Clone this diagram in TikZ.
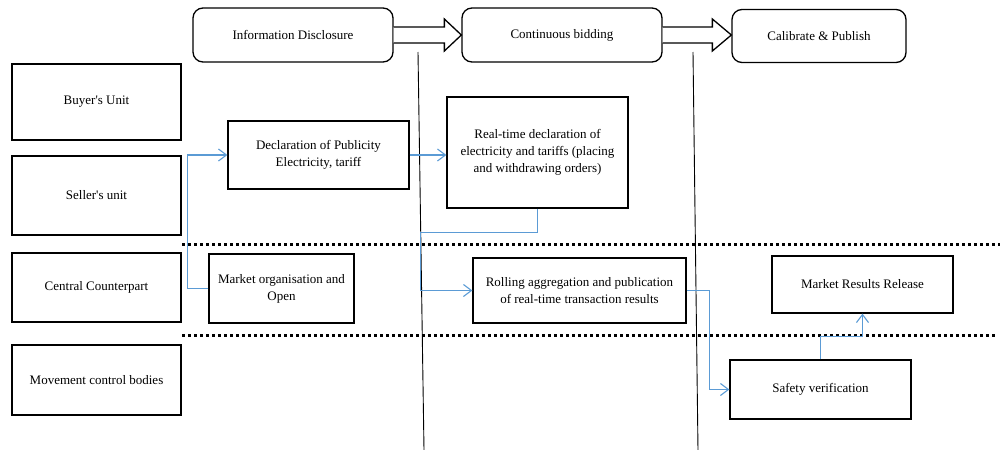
\documentclass[tikz,border=0pt]{standalone}
\usepackage{fontspec}
\setmainfont{Liberation Serif}
\usetikzlibrary{arrows.meta,positioning,calc}
\definecolor{linkblue}{RGB}{91,155,213}
\tikzstyle{lane} = [draw, line width=1.3pt, minimum width=169pt, align=center, font=\fontsize{13}{17}\selectfont]
\tikzstyle{phase} = [draw, line width=1.3pt, rounded corners=10pt, minimum height=54pt, align=center, font=\fontsize{13}{17}\selectfont]
\tikzstyle{task} = [draw, line width=1.3pt, align=center, font=\fontsize{13}{17}\selectfont]
\tikzstyle{link} = [line width=1.1pt, color=linkblue, -{Straight Barb[length=8pt,width=12pt]}]
\tikzstyle{sep} = [line width=3pt, dash pattern=on 3pt off 3pt]
\tikzstyle{blockarrow} = [line width=1.3pt, fill=white]

\begin{document}
\begin{tikzpicture}[x=1pt, y=-1pt]
    \useasboundingbox (0,0) rectangle (1002,450);

    % Lanes
    \node[lane, minimum height=76pt] (buyer) at (96.5,102) {Buyer\textquotesingle s Unit};
    \node[lane, minimum height=79pt] (seller) at (96.5,195.5) {Seller\textquotesingle s unit};
    \node[lane, minimum height=69pt] (central) at (96.5,287.5) {Central Counterpart};
    \node[lane, minimum height=70pt] (movement) at (96.5,380) {Movement control bodies};

    % Phases
    \node[phase, minimum width=200pt] (info) at (293,35) {Information Disclosure};
    \node[phase, minimum width=200pt] (bidding) at (562,35) {Continuous bidding};
    \node[phase, minimum width=174pt, minimum height=53pt] (calib) at (819,36) {Calibrate \& Publish};

    % Phase separators
    \draw[line width=0.9pt] (418,52) -- (424,450);
    \draw[line width=0.9pt] (693,52) -- (698,450);

    % Lane separators
    \draw[sep] (182,244) -- (1000,244);
    \draw[sep] (182,335) -- (996,335);

    % Block arrows between phases
    \draw[blockarrow] ($(info.east)+(0,-8)$) -- ($(bidding.west)+(-17,-8)$) -- ($(bidding.west)+(-17,-16)$)
        -- (bidding.west) -- ($(bidding.west)+(-17,16)$) -- ($(bidding.west)+(-17,8)$) -- ($(info.east)+(0,8)$);
    \draw[blockarrow] ($(bidding.east)+(0,-8)$) -- ($(calib.west |- bidding.east)+(-19,-8)$) -- ($(calib.west |- bidding.east)+(-19,-16)$)
        -- (calib.west |- bidding.east) -- ($(calib.west |- bidding.east)+(-19,16)$) -- ($(calib.west |- bidding.east)+(-19,8)$) -- ($(bidding.east)+(0,8)$);

    % Tasks
    \node[task, minimum width=181pt, minimum height=68pt] (declar) at (318.5,155) {Declaration of Publicity\\Electricity, tariff};
    \node[task, minimum width=181pt, minimum height=111pt] (realtime) at (537.5,152.5) {Real-time declaration of\\electricity and tariffs (placing\\and withdrawing orders)};
    \node[task, minimum width=145pt, minimum height=69pt] (market) at (281.5,288.5) {Market organisation and\\Open};
    \node[task, minimum width=213pt, minimum height=65pt] (rolling) at (579.5,290.5) {Rolling aggregation and publication\\of real-time transaction results};
    \node[task, minimum width=181pt, minimum height=57pt] (release) at (862.5,284.5) {Market Results Release};
    \node[task, minimum width=181pt, minimum height=59pt] (safety) at (820.5,389.5) {Safety verification};

    % Flow
    \draw[link] (market.west) -- ++(-21,0) |- (declar.west);
    \draw[link] (declar.east) -- (realtime.west |- declar.east);
    \draw[link] (realtime.south) -- ++(0,24) -| ([xshift=-52pt]rolling.west) -- (rolling.west);
    \draw[link] (rolling.east) -- ++(23,0) |- (safety.west);
    \draw[link] (safety.north) -- ++(0,-23) -| (release.south);
\end{tikzpicture}
\end{document}
